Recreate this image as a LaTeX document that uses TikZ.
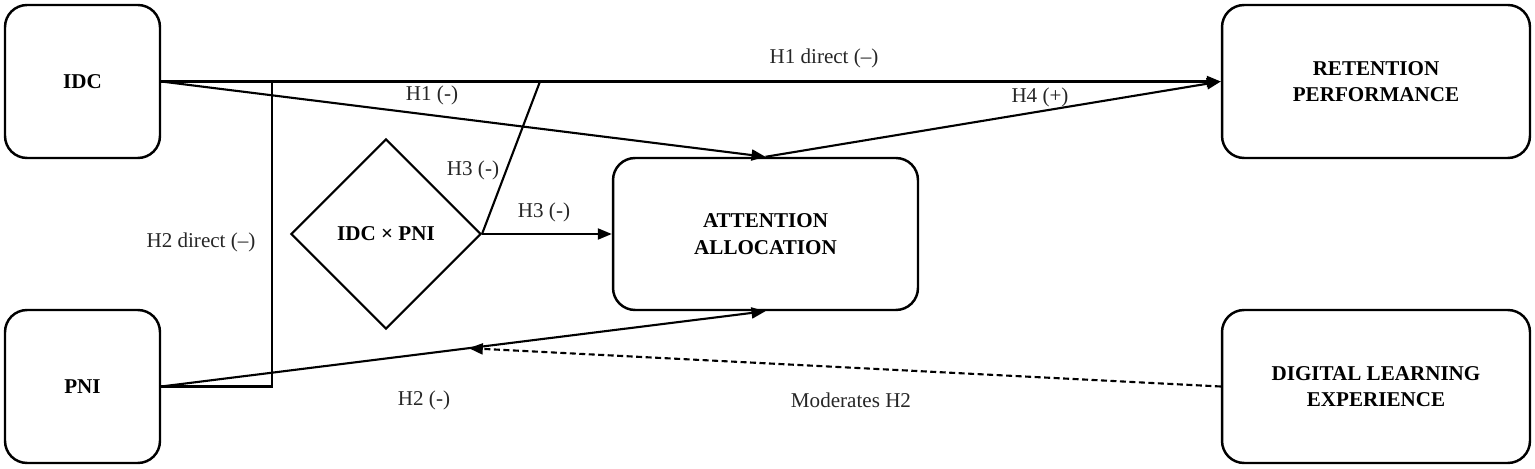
\documentclass[tikz,border=0pt]{standalone}
\usepackage{fontspec}
\setmainfont{Liberation Serif}
\usetikzlibrary{arrows.meta,shapes.geometric,calc}
\begin{document}
\begin{tikzpicture}[x=0.02cm,y=-0.02cm,
  font=\fontsize{12}{15}\selectfont,
  box/.style={draw,line width=1.4pt,rounded corners=0.44cm,align=center,font=\fontsize{12}{15}\selectfont\bfseries,inner sep=0pt},
  smallbox/.style={box,minimum width=3.1cm,minimum height=3.06cm},
  bigbox/.style={box,minimum width=6.16cm,minimum height=3.06cm},
  conn/.style={line width=1.2pt},
  arr/.style={conn,-{Triangle[length=0.28cm,width=0.22cm]}},
  lbl/.style={inner sep=0pt,text=black!85}]
\useasboundingbox (0,0) rectangle (1535,469);
\node[smallbox] (idc) at (82.5,81.5) {IDC};
\node[smallbox] (pni) at (82.5,386.5) {PNI};
\node[box,minimum width=6.1cm,minimum height=3.04cm] (att) at (765.5,234) {ATTENTION\\ALLOCATION};
\node[bigbox] (ret) at (1376,81.5) {RETENTION\\PERFORMANCE};
\node[bigbox] (dle) at (1376,386.5) {DIGITAL LEARNING\\EXPERIENCE};
\node[diamond,draw,line width=1.2pt,aspect=1,minimum width=3.8cm,minimum height=3.8cm,inner sep=0pt,font=\fontsize{12}{15}\selectfont\bfseries] (int) at (386,234) {IDC × PNI};
% coordinates on lines
\coordinate (h2top) at (272,81.5);
\coordinate (h3top) at (540,81.5);
\coordinate (mod) at ($(pni.east)!0.509!(att.south)$);
% connectors
\draw[arr] (idc.east) -- (ret.west);
\draw[arr] (idc.east) -- (att.north);
\draw[conn] (pni.east) -| (h2top);
\draw[arr] (pni.east) -- (att.south);
\draw[conn] (int.east) -- (h3top);
\draw[arr] (int.east) -- (att.west);
\draw[arr] (att.north) -- (ret.west);
\draw[arr,dash pattern=on 0.12cm off 0.07cm] (dle.west) -- (mod);
% labels
\node[lbl] (l1) at (824,58) {H1 direct (–)};
\node[lbl] (l2) at (432,95) {H1 (-)};
\node[lbl] (l3) at (1040,97) {H4 (+)};
\node[lbl] (l4) at (473,170) {H3 (-)};
\node[lbl] (l5) at (544,212) {H3 (-)};
\node[lbl] (l6) at (201,242) {H2 direct (–)};
\node[lbl] (l7) at (424,400) {H2 (-)};
\node[lbl] (l8) at (851,400) {Moderates H2};
\end{tikzpicture}
\end{document}
